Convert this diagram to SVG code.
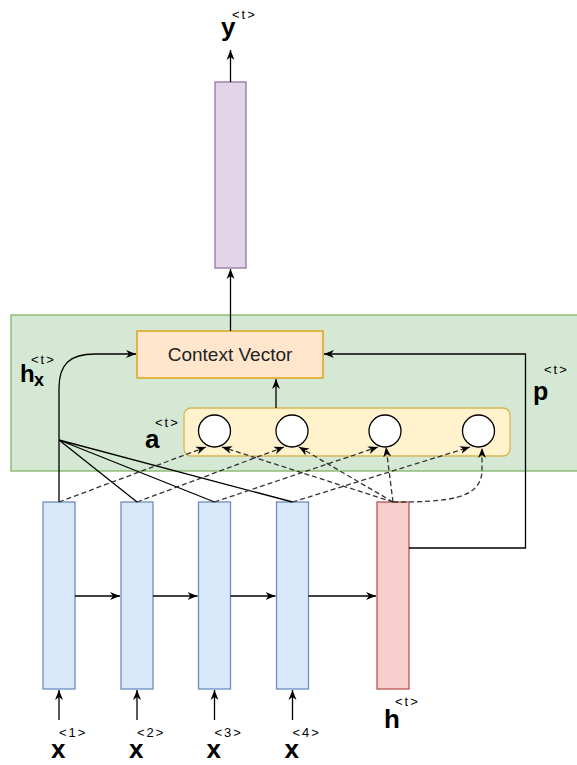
<svg xmlns="http://www.w3.org/2000/svg" width="577" height="765" viewBox="0 0 577 765">
<style>
.lbl{font-family:"Liberation Sans",Arial,sans-serif;font-weight:bold;font-size:26px;fill:#000}
.sup{font-family:"Liberation Sans",Arial,sans-serif;font-size:13px;letter-spacing:2px;fill:#000}
.cv{font-family:"Liberation Sans",Arial,sans-serif;font-size:19px;fill:#222;text-anchor:middle}
.ln{fill:none;stroke:#000;stroke-width:1.3}
.ds{fill:none;stroke:#333;stroke-width:1.3;stroke-dasharray:5 3}
.blue{fill:#dae8fc;stroke:#6c8ebf;stroke-width:1.3}
</style>
<defs>
<marker id="arr" viewBox="0 0 10 10" refX="10" refY="5" markerWidth="10" markerHeight="10" markerUnits="userSpaceOnUse" orient="auto"><path d="M0,1 L10,5 L0,9 L3,5 z" fill="#000"/></marker>
</defs>
<g id="panel"><rect x="11" y="315" width="570" height="156" fill="#d5e8d4" stroke="#82b366" stroke-width="1.3"/></g>
<g id="attention"><rect x="184" y="408" width="326" height="48" rx="7" fill="#fff2cc" stroke="#d6b656" stroke-width="1.3"/></g>
<g id="context"><rect x="137" y="331" width="186" height="47" fill="#ffe6cc" stroke="#d79b00" stroke-width="1.3"/><text class="cv" x="230" y="361">Context Vector</text></g>
<g id="circle1"><circle cx="214.5" cy="431" r="16" fill="#fff" stroke="#000" stroke-width="1.3"/></g>
<g id="circle2"><circle cx="292" cy="431" r="16" fill="#fff" stroke="#000" stroke-width="1.3"/></g>
<g id="circle3"><circle cx="385" cy="431" r="16" fill="#fff" stroke="#000" stroke-width="1.3"/></g>
<g id="circle4"><circle cx="478.5" cy="431" r="16" fill="#fff" stroke="#000" stroke-width="1.3"/></g>
<g id="output"><rect x="215" y="82" width="31" height="186" fill="#e1d5e7" stroke="#9673a6" stroke-width="1.3"/></g>
<g id="enc1"><rect class="blue" x="43" y="502" width="32" height="187"/></g>
<g id="enc2"><rect class="blue" x="121" y="502" width="32" height="187"/></g>
<g id="enc3"><rect class="blue" x="198.5" y="502" width="32" height="187"/></g>
<g id="enc4"><rect class="blue" x="276.5" y="502" width="32" height="187"/></g>
<g id="dec"><rect x="377" y="502" width="32" height="187" fill="#f8cecc" stroke="#b85450" stroke-width="1.3"/></g>
<g id="connectors">
<path class="ln" d="M230.5,82 V50" marker-end="url(#arr)"/>
<path class="ln" d="M230.5,331 V269" marker-end="url(#arr)"/>
<path class="ln" d="M276,408 V379" marker-end="url(#arr)"/>
<path class="ln" d="M409,548 H525.5 V354 H324" marker-end="url(#arr)"/>
<path class="ln" d="M59,502 V388 C59,364 70,354 95,354 H136" marker-end="url(#arr)"/>
<path class="ln" d="M59,440 L137,502 M59,440 L214.5,502 M59,440 L292.5,502"/>
<path class="ln" d="M75,596 H120" marker-end="url(#arr)"/>
<path class="ln" d="M153,596 H197.5" marker-end="url(#arr)"/>
<path class="ln" d="M230.5,596 H275.5" marker-end="url(#arr)"/>
<path class="ln" d="M308.5,596 H376" marker-end="url(#arr)"/>
<path class="ln" d="M59,720 V690" marker-end="url(#arr)"/>
<path class="ln" d="M137,720 V690" marker-end="url(#arr)"/>
<path class="ln" d="M214.5,720 V690" marker-end="url(#arr)"/>
<path class="ln" d="M292.5,720 V690" marker-end="url(#arr)"/>
<path class="ds" d="M59,502 L206,447" marker-end="url(#arr)"/>
<path class="ds" d="M137,502 L284,447" marker-end="url(#arr)"/>
<path class="ds" d="M214.5,502 L378,447" marker-end="url(#arr)"/>
<path class="ds" d="M292.5,502 L470,447" marker-end="url(#arr)"/>
<path class="ds" d="M393,502 L222,447" marker-end="url(#arr)"/>
<path class="ds" d="M393,502 L299,447" marker-end="url(#arr)"/>
<path class="ds" d="M393,502 L386,447" marker-end="url(#arr)"/>
<path class="ds" d="M393,502 C445,502 482,500 482,470 L482,448" marker-end="url(#arr)"/>
</g>
<g id="labels">
<text class="lbl" x="221" y="36">y</text><text class="sup" x="232" y="19">&lt;t&gt;</text>
<text class="lbl" x="20" y="382" style="font-size:24px">h</text><text class="lbl" x="34" y="386" style="font-size:18px">x</text><text class="sup" x="31" y="364">&lt;t&gt;</text>
<text class="lbl" x="145" y="448">a</text><text class="sup" x="155" y="427">&lt;t&gt;</text>
<text class="lbl" x="533" y="400" style="font-size:25px">p</text><text class="sup" x="544" y="374">&lt;t&gt;</text>
<text class="lbl" x="384" y="728">h</text><text class="sup" x="395" y="706">&lt;t&gt;</text>
<text class="lbl" x="51" y="758">x</text><text class="sup" x="59" y="737">&lt;1&gt;</text>
<text class="lbl" x="129" y="758">x</text><text class="sup" x="137" y="737">&lt;2&gt;</text>
<text class="lbl" x="206.5" y="758">x</text><text class="sup" x="214.5" y="737">&lt;3&gt;</text>
<text class="lbl" x="284.5" y="758">x</text><text class="sup" x="292.5" y="737">&lt;4&gt;</text>
</g>
</svg>
